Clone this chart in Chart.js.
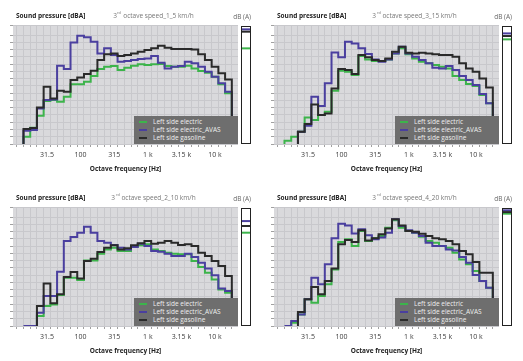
<!DOCTYPE html>
<html><head><meta charset="utf-8">
<script src="https://cdn.jsdelivr.net/npm/chart.js@4.4.0/dist/chart.umd.min.js"></script>
<style>
html,body{margin:0;padding:0;background:#fff}
body{width:523px;height:361px;position:relative;overflow:hidden;font-family:'Open Sans',sans-serif}
.panel{position:absolute;width:261px;height:182px}
.panel canvas{position:absolute}
.h1{position:absolute;left:16px;top:11px;font-size:6.5px;font-weight:700;color:#222;line-height:10px;white-space:nowrap}
.h2{position:absolute;left:90px;width:127px;text-align:center;top:11px;font-size:6.5px;color:#777;line-height:10px;white-space:nowrap}
.h2 sup{font-size:6px;transform:scale(0.65);transform-origin:left top;display:inline-block;vertical-align:top;line-height:6px;margin:0 -2px 0 0.5px}
.h3{position:absolute;right:10px;top:12px;font-size:6.5px;color:#666;line-height:10px;white-space:nowrap}
.frame{position:absolute;left:240.5px;top:25.5px;width:10px;height:118px;box-sizing:border-box;border:1.5px solid #222}
.legend{position:absolute;left:134px;top:116px;width:104px;height:28px;background:#6e6e6e;color:#eee;font-size:6.5px;box-sizing:border-box;padding:2px 0 0 5px}
.legend div{height:7.9px;line-height:7.9px;white-space:nowrap}
.legend span{display:inline-block;width:8px;height:2px;vertical-align:middle;margin-right:6px}
</style></head><body>
<script>
// ---- data ----
const bands = [16,20,25,31.5,40,50,63,80,100,125,160,200,250,315,400,500,630,800,1000,1250,1600,2000,2500,3150,4000,5000,6300,8000,10000,12500,16000];
const tickFreqs = [31.5,100,315,1000,3150,10000];
const tickLabels = ['31.5','100','315','1 k','3.15 k','10 k'];
const seriesNames = ['Left side electric','Left side electric_AVAS','Left side gasoline'];
const speeds = ['speed_1_5 km/h','speed_3_15 km/h','speed_2_10 km/h','speed_4_20 km/h'];

const s1Electric = [15.0,21.2,29.5,39.6,40.3,39.1,42.6,51.1,51.1,52.9,56.8,61.7,63.3,63.7,61.0,62.6,63.9,64.9,64.4,64.9,65.1,63.7,63.3,63.3,63.9,62.1,60.3,59.1,56.4,51.1,44.9];
const s1Avas     = [19.2,19.6,34.5,40.3,40.7,63.9,61.7,80.0,84.6,83.5,80.5,72.4,75.9,71.3,66.7,67.2,67.9,68.5,69.0,70.6,66.0,62.1,63.3,63.7,66.7,65.6,63.3,59.8,56.4,51.8,46.0];
const s1Gasoline = [20.3,21.0,35.2,49.5,41.4,46.7,46.0,54.1,55.9,58.2,60.5,67.9,71.8,72.4,70.6,71.3,72.4,73.6,74.7,75.9,77.7,76.4,75.4,75.4,75.4,75.2,71.8,67.9,63.3,58.7,54.5];
const s1Overall  = [75.9,89.0,87.4];

const s2Electric = [12.3,15.0,18.5,28.3,26.5,29.9,32.2,46.7,60.5,59.8,57.5,70.6,68.3,67.2,67.2,68.3,72.4,75.9,71.8,69.0,66.7,65.6,64.4,63.3,62.1,56.8,54.1,51.3,49.9,43.7,38.0];
const s2Avas     = [null,null,18.5,22.6,42.6,36.2,51.8,73.1,69.7,80.5,79.3,75.9,72.0,68.3,66.7,68.3,72.4,77.0,72.4,70.2,67.9,65.6,62.6,62.1,63.7,61.0,56.8,54.1,50.6,44.4,38.0];
const s2Gasoline = [null,null,18.5,23.8,37.3,29.9,31.1,48.3,61.7,61.0,58.2,71.3,69.7,67.9,67.2,69.0,73.6,77.0,72.9,72.4,72.9,72.4,71.8,71.3,71.3,70.2,65.6,62.1,59.8,55.2,49.0];
const s2Overall  = [82.1,86.2,84.4];

const s3Electric = [null,null,16.9,23.8,24.9,31.3,43.3,43.3,41.7,55.2,55.2,59.8,62.8,64.0,61.7,61.7,64.6,65.6,66.3,62.8,61.7,60.5,59.8,59.4,59.4,54.8,50.6,46.7,42.1,35.2,32.9];
const s3Avas     = [10,10,19.2,30.7,30.7,47.4,68.6,71.3,74.3,78.4,74.3,68.6,67.4,65.8,64.0,62.8,64.4,66.7,65.1,61.7,61.2,59.8,58.2,58.2,59.8,57.5,53.6,49.7,44.9,35.9,34.1];
const s3Gasoline = [null,null,23.8,39.2,25.6,31.8,43.7,47.2,42.8,54.8,56.4,61.0,64.0,65.6,62.8,63.5,65.6,67.0,68.6,66.7,67.4,68.6,67.4,65.8,66.3,65.1,60.5,58.2,54.8,51.3,44.4];
const s3Overall  = [74.3,82.3,78.9];

const s4Electric = [null,12.3,18.0,28.4,26.1,30.7,38.7,49.0,67.9,69.7,65.1,75.4,68.6,70.4,72.0,77.7,82.8,77.7,75.4,74.3,71.5,68.6,67.4,65.1,64.0,60.5,55.9,52.5,47.9,41.0,36.4];
const s4Avas     = [10,13.4,18.0,28.4,43.3,38.7,52.5,70.4,80.5,79.3,73.8,76.6,72.5,69.7,70.9,74.3,83.5,78.9,75.9,74.3,72.0,67.4,65.1,65.1,62.8,62.1,57.5,53.6,45.1,41.0,36.4];
const s4Gasoline = [null,null,19.6,28.4,36.9,31.8,41.0,49.7,66.3,69.2,67.9,75.9,69.0,70.4,73.2,77.1,83.5,79.3,75.4,75.0,73.6,72.0,70.4,69.7,68.6,66.3,61.7,59.4,54.1,46.7,46.7];
const s4Overall  = [87.4,89.7,88.5];

// ---- styling / layout ----
const colors = ['#3cb44b','#4a3f9f','#2a2a2a'];
const Y_MIN = 10, Y_MAX = 92;
const X_MIN = 9.94, X_MAX = 43.42;
const panelPos = [[0,0],[261,0],[0,182],[261,182]];

Chart.defaults.font.family = "'Open Sans', sans-serif";

function bandOf(f){ return Math.round(10*Math.log10(f)); }
const tickBands = tickFreqs.map(bandOf);

function stepPoints(vals){
  const pts=[]; let first=-1,last=-1;
  vals.forEach((v,i)=>{ if(v!=null){ if(first<0) first=i; last=i; } });
  if(first<0) return pts;
  pts.push({x:bandOf(bands[first])-0.5, y:Y_MIN});
  for(let i=first;i<=last;i++){ if(vals[i]==null) continue; pts.push({x:bandOf(bands[i])+0.5, y:vals[i]}); }
  pts.push({x:bandOf(bands[last])+0.5, y:Y_MIN});
  return pts;
}

const areaBg = {id:'areaBg', beforeDraw(chart){
  const {ctx, chartArea:a} = chart; ctx.save(); ctx.fillStyle='#d9d9dc';
  ctx.fillRect(a.left,a.top,a.right-a.left,a.bottom-a.top); ctx.restore(); }};

function makePanel(idx, series, overall){
  const [px,py] = panelPos[idx];
  const p = document.createElement('div'); p.className='panel';
  p.style.left=px+'px'; p.style.top=py+'px'; document.body.appendChild(p);

  const c = document.createElement('canvas'); c.width=240; c.height=182;
  c.style.left='0px'; c.style.top='0px'; c.style.width='240px'; c.style.height='182px'; p.appendChild(c);

  const order = [3,2,1];
  new Chart(c, {
    type:'line',
    data:{datasets: series.map((vals,i)=>({label:seriesNames[i], data:stepPoints(vals), borderColor:colors[i],
      backgroundColor:colors[i], borderWidth:2, stepped:'after', pointRadius:0, fill:false, order:order[i]}))},
    options:{
      responsive:false, animation:false, devicePixelRatio:1,
      layout:{padding:{top:25,right:2,left:0,bottom:0}},
      plugins:{legend:{display:false}, tooltip:{enabled:false}, title:{display:false}},
      scales:{
        x:{type:'linear', min:X_MIN, max:X_MAX,
          afterBuildTicks(s){ const t=[]; for(let n=Math.ceil(X_MIN); n<=Math.floor(X_MAX); n++) t.push({value:n}); s.ticks=t; },
          afterFit(s){ s.height=38; },
          grid:{offset:true, color:'#c8c8cc', lineWidth:1, tickLength:3, tickColor:'#a0a0a0'},
          border:{display:false},
          ticks:{autoSkip:false, maxRotation:0, minRotation:0, padding:3.5, color:'#3a3a3a', font:{size:7},
            callback(v){ const i=tickBands.indexOf(v); return i<0?'':tickLabels[i]; }},
          title:{display:true, text:'Octave frequency [Hz]', color:'#222', font:{size:6.5, weight:'bold'}, padding:{top:8.5,bottom:8.5}}
        },
        y:{min:Y_MIN, max:Y_MAX, afterFit(s){ s.width=13; },
          ticks:{display:false, stepSize:5},
          grid:{color:'#c8c8cc', lineWidth:1, tickLength:3, tickColor:'#a0a0a0'},
          border:{display:false}}
      }
    },
    plugins:[areaBg]
  });

  // overall level bar
  const c2 = document.createElement('canvas'); c2.width=9; c2.height=119;
  c2.style.left='241px'; c2.style.top='25px'; c2.style.width='9px'; c2.style.height='119px'; p.appendChild(c2);
  new Chart(c2, {
    type:'line',
    data:{datasets: overall.map((L,i)=>({label:seriesNames[i], data:[{x:0,y:L},{x:1,y:L}], borderColor:colors[i],
      borderWidth:2, pointRadius:0, order:order[i]}))},
    options:{responsive:false, animation:false, devicePixelRatio:1, layout:{padding:0},
      plugins:{legend:{display:false}, tooltip:{enabled:false}},
      scales:{x:{type:'linear',min:0,max:1,display:false}, y:{min:Y_MIN,max:Y_MAX,display:false}}}
  });
  const fr = document.createElement('div'); fr.className='frame'; p.appendChild(fr);

  const h1=document.createElement('div'); h1.className='h1'; h1.textContent='Sound pressure [dBA]'; p.appendChild(h1);
  const h2=document.createElement('div'); h2.className='h2'; h2.innerHTML='3<sup>rd</sup> octave '+speeds[idx]; p.appendChild(h2);
  const h3=document.createElement('div'); h3.className='h3'; h3.textContent='dB (A)'; p.appendChild(h3);

  const lg=document.createElement('div'); lg.className='legend';
  seriesNames.forEach((n,i)=>{ const r=document.createElement('div'); const sw=document.createElement('span');
    sw.style.background=colors[i]; r.appendChild(sw); r.appendChild(document.createTextNode(n)); lg.appendChild(r); });
  p.appendChild(lg);
}

makePanel(0,[s1Electric,s1Avas,s1Gasoline],s1Overall);
makePanel(1,[s2Electric,s2Avas,s2Gasoline],s2Overall);
makePanel(2,[s3Electric,s3Avas,s3Gasoline],s3Overall);
makePanel(3,[s4Electric,s4Avas,s4Gasoline],s4Overall);
</script>
</body></html>
